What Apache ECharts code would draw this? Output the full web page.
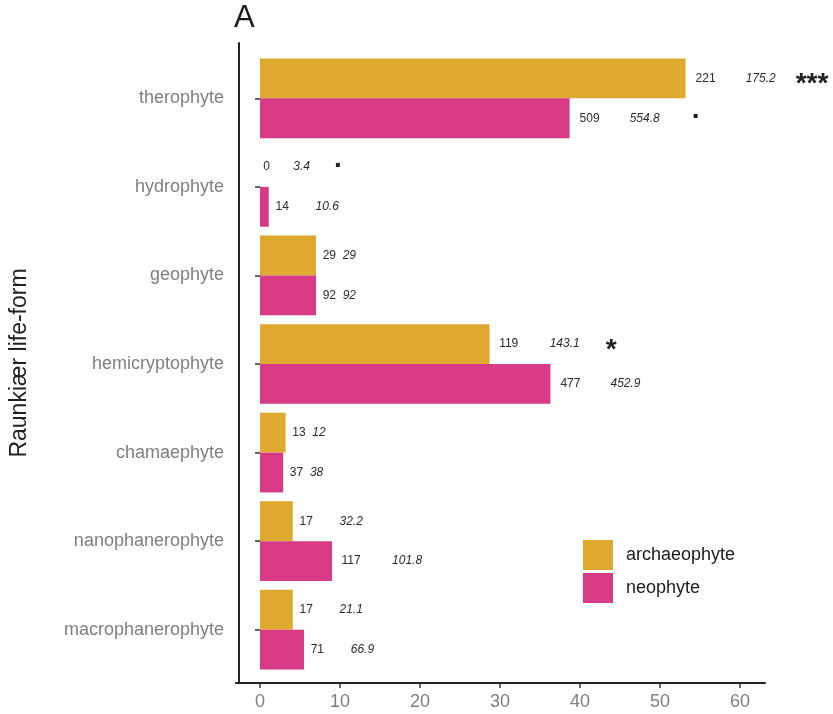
<!DOCTYPE html>
<html><head><meta charset="utf-8">
<script src="https://cdn.jsdelivr.net/npm/echarts@6/dist/echarts.min.js"></script>
<style>html,body{margin:0;padding:0;background:#fff}#c{width:833px;height:714px}</style>
</head><body><div id="c"></div>
<script>
// ---- data ----
const categories = ['therophyte','hydrophyte','geophyte','hemicryptophyte','chamaephyte','nanophanerophyte','macrophanerophyte'];
const seriesNames = ['archaeophyte','neophyte'];
const archaeoPct = [53.2, 0, 7.0, 28.7, 3.2, 4.1, 4.1];
const neoPct = [38.7, 1.1, 7.0, 36.3, 2.9, 9.0, 5.5];
const archaeoCount = [221, 0, 29, 119, 13, 17, 17];
const neoCount = [509, 14, 92, 477, 37, 117, 71];
const archaeoExpected = ['175.2','3.4','29','143.1','12','32.2','21.1'];
const neoExpected = ['554.8','10.6','92','452.9','38','101.8','66.9'];
const archaeoSig = ['***','.','','*','','',''];
const neoSig = ['.','','','','','',''];
const xTicks = [0,10,20,30,40,50,60];

// ---- styling ----
const FONT = '"Liberation Sans", Arial, Helvetica, sans-serif';
const ORANGE = '#DFA82E', PINK = '#D73B85';
const archaeoSigGap = [20, 24, 0, 26, 0, 0, 0];
const neoSigGap = [32, 0, 0, 0, 0, 0, 0];

const ctx = document.createElement('canvas').getContext('2d');
function tw(s, italic){ ctx.font = (italic ? 'italic ' : '') + '12px "Liberation Sans", Arial'; return ctx.measureText(String(s)).width; }

function buildLabel(counts, exps, sigs, gaps){
  const rich = {};
  counts.forEach((c, i) => {
    const wc = tw(c), we = tw(exps[i], true);
    rich['c'+i] = {fontSize:12, fontFamily:FONT, color:'#2b2b2b', verticalAlign:'middle', padding:[0,0,0,0.5*wc]};
    rich['e'+i] = {fontSize:12, fontFamily:FONT, fontStyle:'italic', color:'#2b2b2b', verticalAlign:'middle', padding:[0,0,0,Math.max(0, 2*we - 1.5*wc)]};
    if (sigs[i]) {
      const dot = sigs[i] === '.';
      rich['s'+i] = {fontSize:28, fontWeight:'bold', fontFamily:FONT, color:'#222', verticalAlign:'middle',
        padding: dot ? [0,0,16,gaps[i]] : [12,0,0,gaps[i]]};
    }
  });
  return {
    show:true, position:'right', distance:0, rich,
    formatter: p => {
      const i = p.dataIndex;
      let s = `{c${i}|${counts[i]}}{e${i}|${exps[i]}}`;
      if (sigs[i]) s += `{s${i}|${sigs[i]}}`;
      return s;
    }
  };
}

const chart = echarts.init(document.getElementById('c'), null, {renderer:'canvas'});
chart.setOption({
  animation:false,
  backgroundColor:'#fff',
  title:{text:'A', left:234, top:3, padding:[0,0,0,0], textStyle:{fontSize:31, fontWeight:'normal', color:'#1a1a1a', fontFamily:FONT}},
  legend:{data:seriesNames, orient:'vertical', left:583, top:540, padding:0, itemWidth:30, itemHeight:30, itemGap:3, icon:'rect',
    textStyle:{fontSize:18, color:'#1a1a1a', fontFamily:FONT, padding:[0,0,0,8]}},
  grid:[{left:236, top:54, width:529, height:620}, {left:236, top:43, width:529, height:640}],
  xAxis:[
    {type:'value', gridIndex:0, min:-3, max:63.125, offset:9,
      axisLine:{show:true, onZero:false, lineStyle:{color:'#222', width:2}},
      axisTick:{show:true, length:5, customValues:xTicks, lineStyle:{color:'#333', width:1.5}},
      axisLabel:{customValues:xTicks, fontSize:18, color:'#7f7f7f', margin:10, fontFamily:FONT},
      splitLine:{show:false}},
    {type:'value', gridIndex:1, min:0, max:1, show:false}
  ],
  yAxis:[
    {type:'category', gridIndex:0, data:categories, inverse:true,
      axisLine:{show:false},
      axisTick:{show:true, alignWithLabel:true, length:5, lineStyle:{color:'#333', width:1.5}},
      axisLabel:{fontSize:18, color:'#7f7f7f', margin:12, fontFamily:FONT}},
    {type:'value', gridIndex:1, min:0, max:1,
      axisLine:{show:true, onZero:false, lineStyle:{color:'#222', width:2}},
      axisTick:{show:false}, axisLabel:{show:false}, splitLine:{show:false},
      name:'Raunkiær life-form', nameLocation:'middle', nameGap:208,
      nameTextStyle:{fontSize:23, color:'#222', fontFamily:FONT}}
  ],
  series:[
    {type:'bar', name:seriesNames[0], xAxisIndex:0, yAxisIndex:0, data:archaeoPct,
      itemStyle:{color:ORANGE}, barCategoryGap:'10%', barGap:'0%',
      label:buildLabel(archaeoCount, archaeoExpected, archaeoSig, archaeoSigGap)},
    {type:'bar', name:seriesNames[1], xAxisIndex:0, yAxisIndex:0, data:neoPct,
      itemStyle:{color:PINK}, barCategoryGap:'10%', barGap:'0%',
      label:buildLabel(neoCount, neoExpected, neoSig, neoSigGap)}
  ]
});
</script></body></html>
